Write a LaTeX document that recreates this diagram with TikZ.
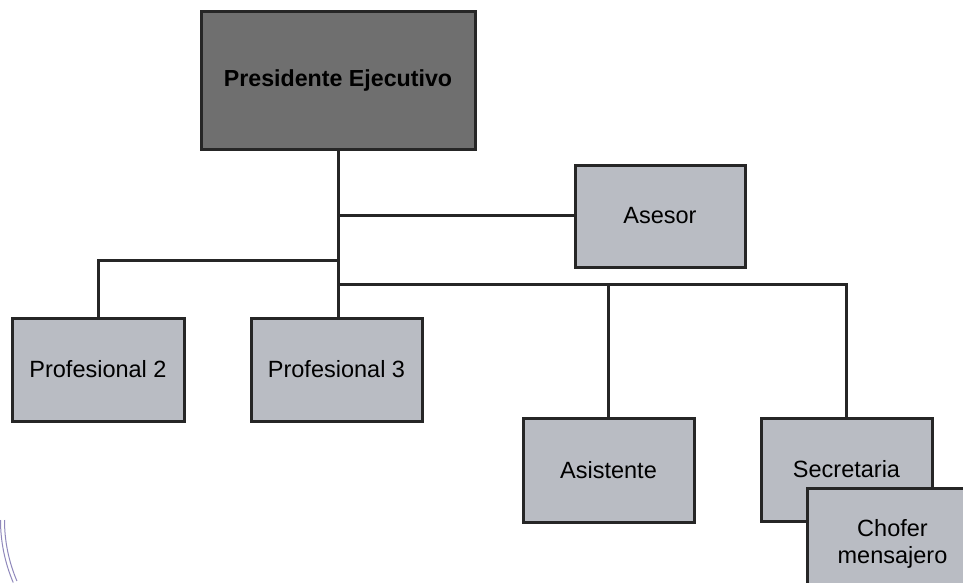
\documentclass[tikz,border=0pt]{standalone}
\usepackage{fontspec}
\setmainfont{Liberation Sans}
\begin{document}
\begin{tikzpicture}[x=1pt,y=-1pt,
  box/.style={draw=black!85, line width=3pt, fill=lightbox, inner sep=0pt, font=\fontsize{23.5}{27}\selectfont, align=center},
  link/.style={draw=black!85, line width=3pt}]
\definecolor{lightbox}{HTML}{B9BCC3}
\definecolor{darkbox}{HTML}{6F6F6F}
\definecolor{stamp}{HTML}{8F88BB}
\useasboundingbox (0,0) rectangle (963,583);
% stamp arcs
\draw[stamp, line width=1pt] (0.5,520) arc[start angle=180, end angle=157, radius=160];
\draw[stamp, line width=1pt] (4.5,520) arc[start angle=180, end angle=157, radius=156];
% boxes
\node[box, fill=darkbox, minimum width=274pt, minimum height=137pt, font=\fontsize{23.2}{27}\selectfont\bfseries] (pres) at (338,80.5) {Presidente Ejecutivo};
\node[box, minimum width=170pt, minimum height=102pt] (ases) at (660,216) {Asesor};
\node[box, minimum width=172pt, minimum height=103pt] (p2) at (98,369.5) {Profesional 2};
\node[box, minimum width=171pt, minimum height=103pt] (p3) at (336.5,369.5) {Profesional 3};
\node[box, minimum width=171pt, minimum height=104pt] (asis) at (608.5,470) {Asistente};
\node[box, minimum width=171pt, minimum height=103pt] (sec) at (846.5,469.5) {Secretaria};
\node[box, minimum width=170pt, minimum height=110pt, anchor=north west] (chof) at (806,487) {Chofer\\mensajero};
% connectors
\coordinate (ja) at (338,215);
\coordinate (jb) at (338,260);
\coordinate (jc) at (338,284);
\draw[link] (pres.south) -- (ja) -- (jb) -- (jc) -- (jc |- p3.north);
\draw[link] (ja) -- (ases.west |- ja);
\draw[link] (jb) -- (p2.north |- jb) -- (p2.north);
\draw[link] (jc) -- (sec.north |- jc) -- (sec.north);
\draw[link] (asis.north |- jc) -- (asis.north);
\end{tikzpicture}
\end{document}
